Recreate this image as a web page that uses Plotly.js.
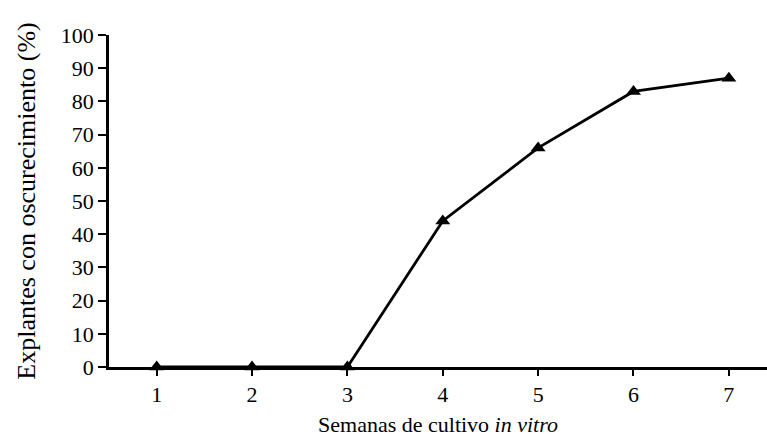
<!DOCTYPE html>
<html>
<head>
<meta charset="utf-8">
<script src="https://cdn.plot.ly/plotly-3.0.1.min.js"></script>
<style>
  html, body { margin: 0; padding: 0; background: #fff; }
  #chart { width: 767px; height: 437px; }
</style>
</head>
<body>
<div id="chart"></div>
<script>
// Weeks of in vitro culture and the share of explants showing browning
const semanas = [1, 2, 3, 4, 5, 6, 7];
const oscurecimiento = [0, 0, 0, 44, 66, 83, 87];
const yTicks = [0, 10, 20, 30, 40, 50, 60, 70, 80, 90, 100];

const serif = 'Liberation Serif, Times New Roman, serif';

const trace = {
  x: semanas,
  y: oscurecimiento,
  type: 'scatter',
  mode: 'lines+markers',
  line: { color: '#000', width: 2.8 },
  marker: { symbol: 'triangle-up', size: 13, color: '#000' },
  cliponaxis: false,
  hoverinfo: 'x+y'
};

const layout = {
  width: 767,
  height: 437,
  margin: { l: 109, r: 0, t: 35, b: 70 },
  paper_bgcolor: '#fff',
  plot_bgcolor: '#fff',
  showlegend: false,
  font: { family: serif, color: '#000', size: 22 },
  xaxis: {
    range: [0.5, 7.4],
    tickvals: semanas,
    ticktext: semanas.map(String),
    ticks: 'outside',
    ticklen: 6,
    tickwidth: 2,
    tickcolor: '#000',
    showline: true,
    linecolor: '#000',
    linewidth: 2.8,
    showgrid: false,
    zeroline: false,
    tickfont: { family: serif, size: 22, color: '#000' },
    title: {
      text: 'Semanas de cultivo <i>in vitro</i>',
      font: { family: serif, size: 22, color: '#000' },
      standoff: 11
    }
  },
  yaxis: {
    range: [0, 100],
    tickvals: yTicks,
    ticktext: yTicks.map(String),
    ticks: 'outside',
    ticklen: 8,
    tickwidth: 2,
    tickcolor: '#000',
    showline: true,
    linecolor: '#000',
    linewidth: 2.8,
    showgrid: false,
    zeroline: false,
    tickfont: { family: serif, size: 22, color: '#000' },
    title: {
      text: 'Explantes con oscurecimiento (%)',
      font: { family: serif, size: 26, color: '#000' },
      standoff: 18
    }
  }
};

Plotly.newPlot('chart', [trace], layout, { displayModeBar: false, staticPlot: true });
</script>
</body>
</html>
